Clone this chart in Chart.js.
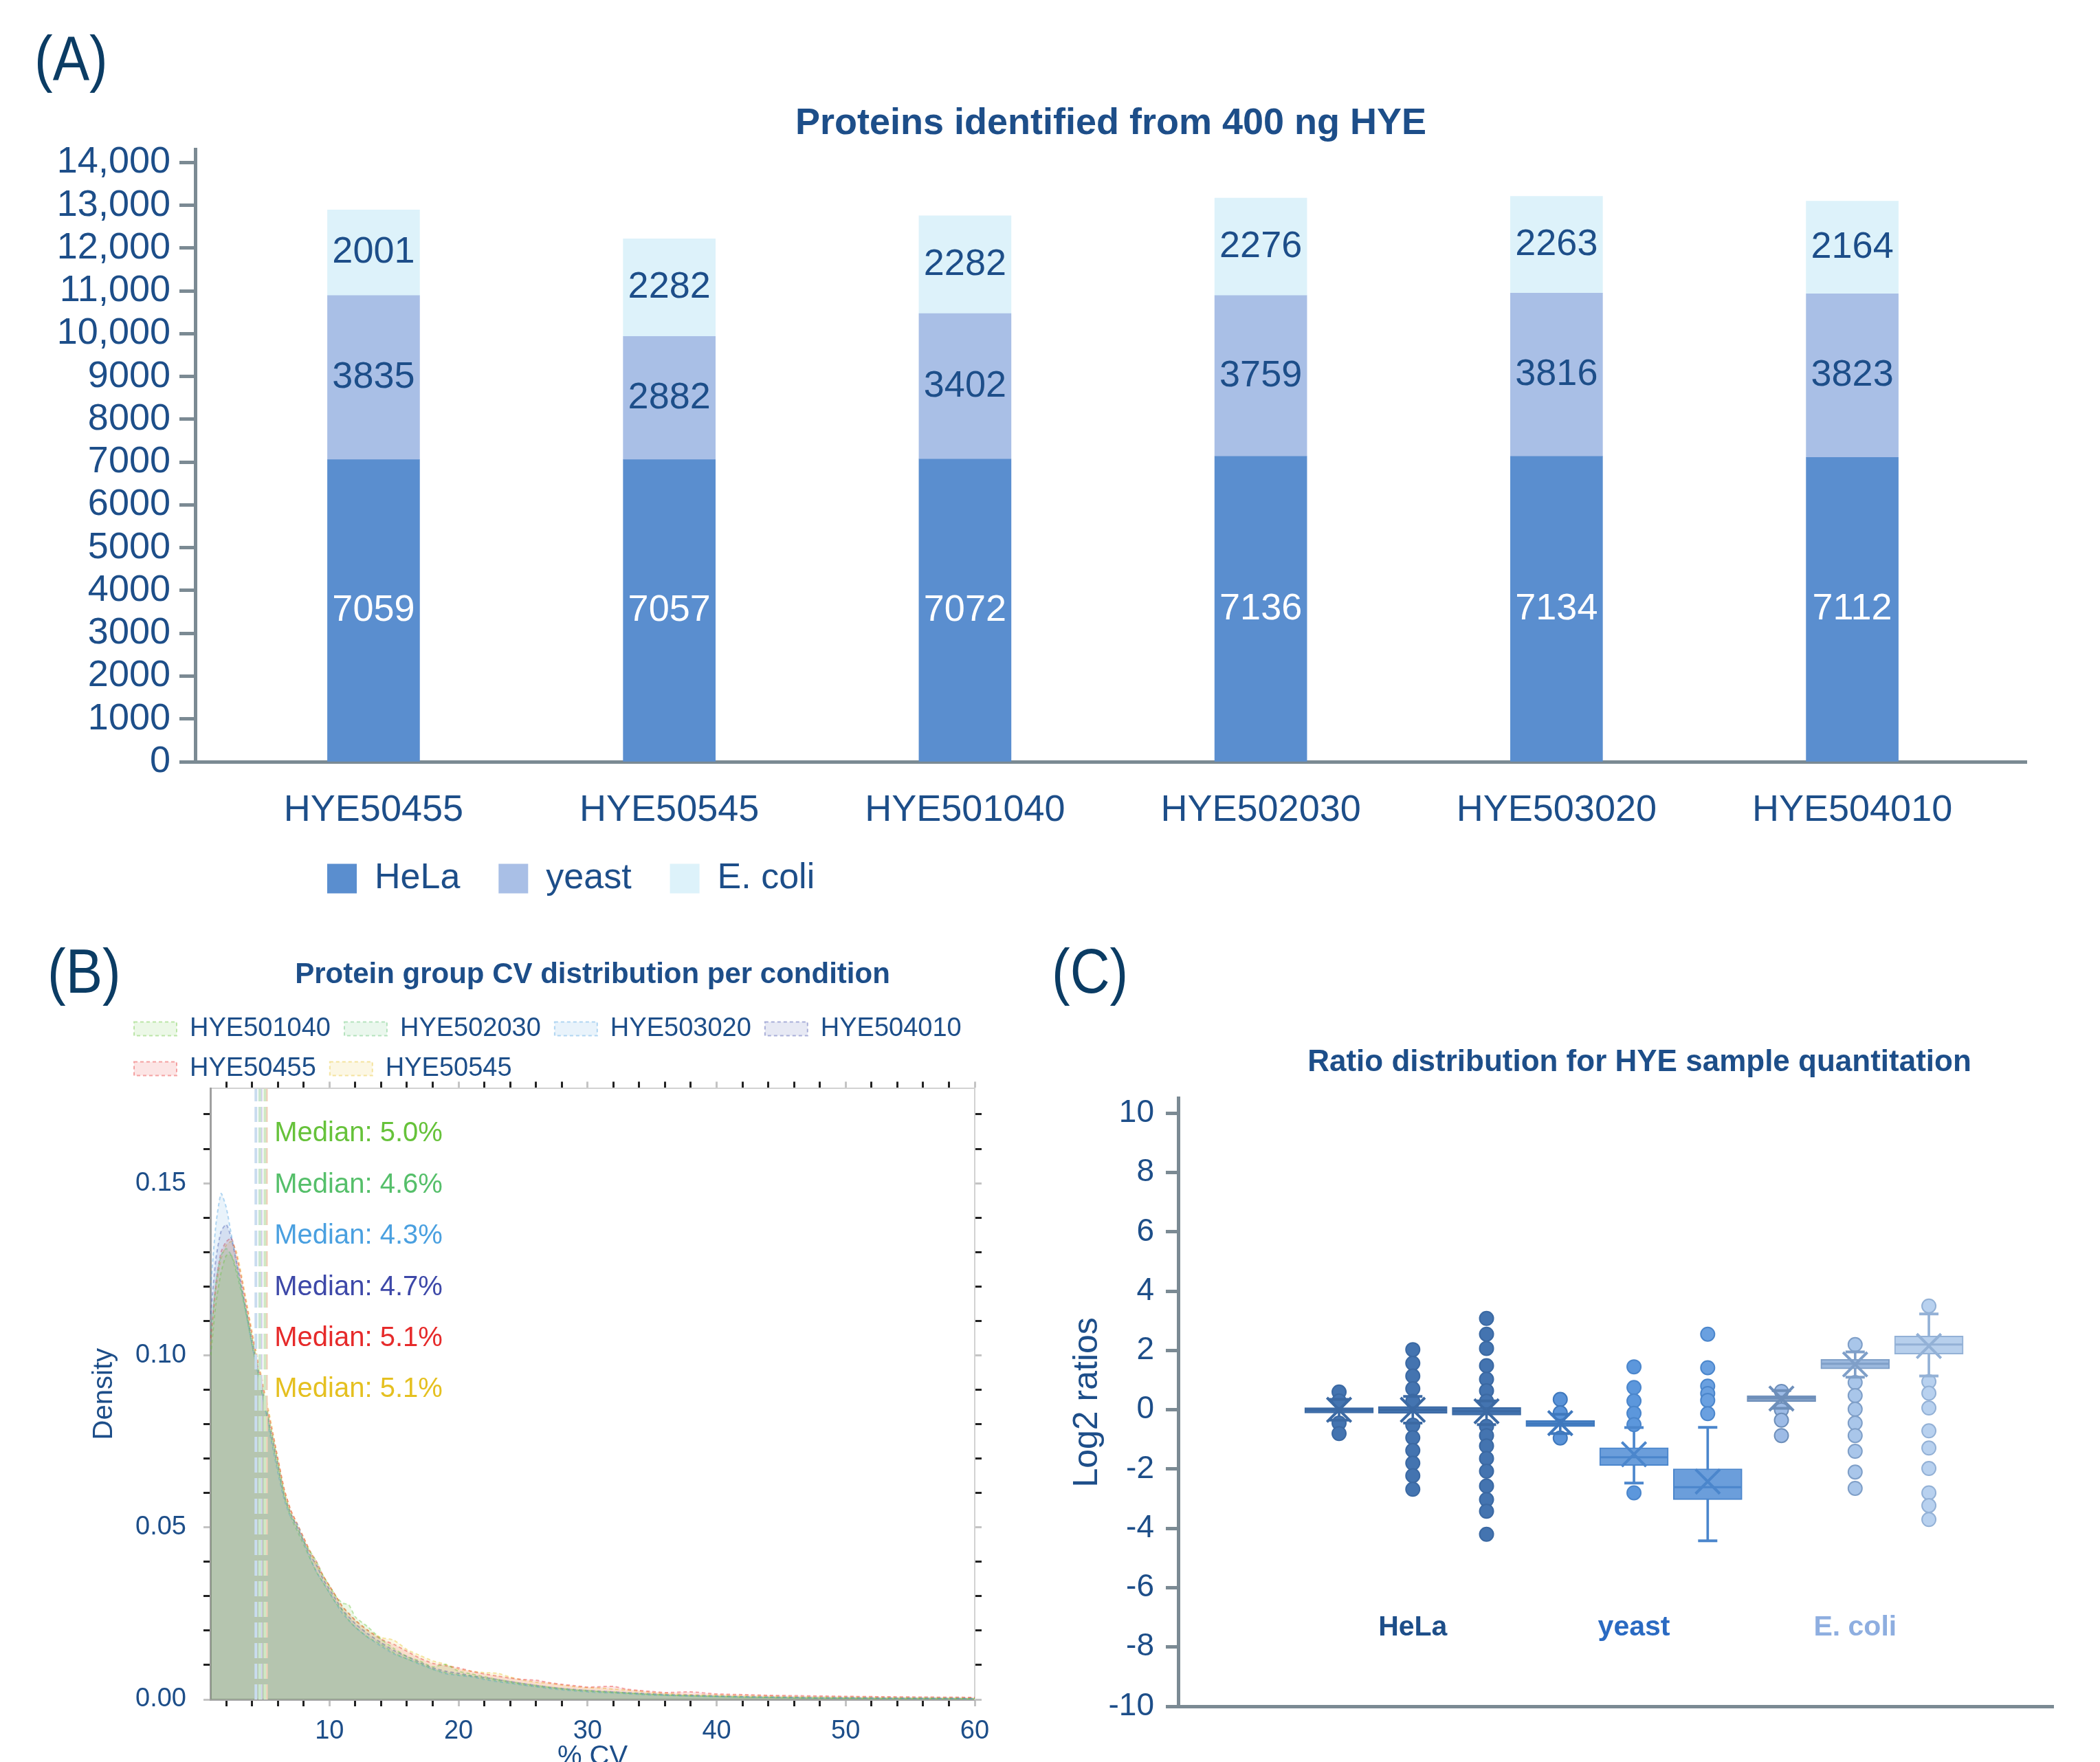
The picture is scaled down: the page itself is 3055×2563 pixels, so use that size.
<!DOCTYPE html>
<html>
<head>
<meta charset="utf-8">
<title>HYE proteome figure</title>
<script src="https://cdn.jsdelivr.net/npm/chart.js@4.4.1/dist/chart.umd.min.js"></script>
<style>
  html, body { margin: 0; padding: 0; background: #fff; overflow: hidden; }
  body { width: 3055px; height: 2563px; position: relative; font-family: "Liberation Sans", Arial, sans-serif; }
  canvas { position: absolute; }
  .tag { position: absolute; font-size: 90px; line-height: 1; color: #0b3c64; transform: scaleX(0.89); transform-origin: left top; }
</style>
</head>
<body>
<div class="tag" style="left:50px; top:40px">(A)</div>
<div class="tag" style="left:69px; top:1368px">(B)</div>
<div class="tag" style="left:1530px; top:1368px">(C)</div>
<canvas id="chartA" width="3055" height="1314" style="left:0; top:0"></canvas>
<canvas id="chartB" width="1460" height="1200" style="left:0; top:1380px"></canvas>
<canvas id="chartC" width="1810" height="1183" style="left:1480px; top:1380px"></canvas>
<script>
// ---- (A) proteins identified per sample ----
const sampleNames = ["HYE50455", "HYE50545", "HYE501040", "HYE502030", "HYE503020", "HYE504010"];
const helaCounts = [7059, 7057, 7072, 7136, 7134, 7112];
const yeastCounts = [3835, 2882, 3402, 3759, 3816, 3823];
const ecoliCounts = [2001, 2282, 2282, 2276, 2263, 2164];
const countTicks = [0, 1000, 2000, 3000, 4000, 5000, 6000, 7000, 8000, 9000, 10000, 11000, 12000, 13000, 14000];

// ---- (B) CV density per condition ----
const cvSeriesNames = ["HYE501040", "HYE502030", "HYE503020", "HYE504010", "HYE50455", "HYE50545"];
const cvGrid = [0.8, 1.2, 1.6, 2.0, 2.4, 2.8, 3.2, 3.6, 4.0, 4.5,
  5.0, 5.5, 6.0, 6.5, 7.0, 7.5, 8.0, 8.5, 9.0, 9.5,
  10, 10.5, 11, 11.5, 12, 13, 14, 15, 16, 17,
  18, 19, 20, 21, 22, 23, 24, 25, 26, 27,
  28, 29, 30, 31, 32, 33, 34, 35, 36, 38,
  40, 42, 44, 46, 48, 50, 53, 56, 60];
const densHYE501040 = [0.100, 0.115, 0.124, 0.129, 0.129, 0.125, 0.119, 0.112, 0.105, 0.096,
  0.087, 0.078, 0.069, 0.060, 0.054, 0.050, 0.046, 0.043, 0.040, 0.036,
  0.033, 0.030, 0.028, 0.0275, 0.024, 0.021, 0.0175, 0.0148, 0.0125, 0.0112,
  0.0095, 0.0102, 0.0082, 0.0074, 0.0066, 0.0058, 0.0052, 0.0046, 0.0041, 0.0036,
  0.0032, 0.0028, 0.0026, 0.0023, 0.0022, 0.0019, 0.0017, 0.0015, 0.0013, 0.0011,
  0.0009, 0.0007, 0.0006, 0.0005, 0.0005, 0.0004, 0.0003, 0.0003, 0.0002];
const densHYE502030 = [0.106, 0.121, 0.129, 0.131, 0.129, 0.124, 0.118, 0.111, 0.103, 0.094,
  0.085, 0.076, 0.067, 0.059, 0.053, 0.049, 0.045, 0.041, 0.037, 0.034,
  0.031, 0.028, 0.026, 0.023, 0.021, 0.018, 0.016, 0.0135, 0.0118, 0.0105,
  0.0088, 0.0078, 0.0072, 0.0068, 0.0061, 0.0055, 0.0049, 0.0043, 0.0038, 0.0034,
  0.0030, 0.0027, 0.0024, 0.0022, 0.0020, 0.0018, 0.0016, 0.0014, 0.0013, 0.0010,
  0.0009, 0.0007, 0.0006, 0.0005, 0.0004, 0.0004, 0.0003, 0.0003, 0.0002];
const densHYE503020 = [0.120, 0.138, 0.147, 0.143, 0.135, 0.127, 0.119, 0.111, 0.103, 0.094,
  0.085, 0.075, 0.066, 0.058, 0.053, 0.051, 0.046, 0.041, 0.037, 0.034,
  0.031, 0.028, 0.025, 0.023, 0.021, 0.018, 0.0155, 0.0132, 0.0118, 0.0102,
  0.0088, 0.0075, 0.0070, 0.0066, 0.0058, 0.0052, 0.0047, 0.0042, 0.0037, 0.0032,
  0.0028, 0.0025, 0.0022, 0.0020, 0.0019, 0.0017, 0.0015, 0.0013, 0.0012, 0.0010,
  0.0008, 0.0007, 0.0006, 0.0005, 0.0004, 0.0004, 0.0003, 0.0003, 0.0002];
const densHYE504010 = [0.112, 0.128, 0.136, 0.138, 0.134, 0.127, 0.120, 0.112, 0.104, 0.095,
  0.086, 0.077, 0.068, 0.059, 0.054, 0.050, 0.046, 0.042, 0.039, 0.035,
  0.032, 0.029, 0.026, 0.024, 0.022, 0.019, 0.0165, 0.0142, 0.0125, 0.0108,
  0.0092, 0.0082, 0.0076, 0.0069, 0.0064, 0.0058, 0.0052, 0.0046, 0.0041, 0.0036,
  0.0032, 0.0029, 0.0026, 0.0024, 0.0022, 0.0020, 0.0018, 0.0016, 0.0014, 0.0012,
  0.0010, 0.0008, 0.0007, 0.0006, 0.0005, 0.0005, 0.0004, 0.0003, 0.0003];
const densHYE50455 = [0.105, 0.121, 0.130, 0.133, 0.134, 0.129, 0.122, 0.114, 0.106, 0.097,
  0.088, 0.079, 0.070, 0.061, 0.055, 0.051, 0.047, 0.043, 0.040, 0.036,
  0.033, 0.030, 0.027, 0.025, 0.023, 0.020, 0.0175, 0.0160, 0.0140, 0.0120,
  0.0105, 0.0098, 0.0092, 0.0082, 0.0074, 0.0068, 0.0062, 0.0058, 0.0056, 0.0049,
  0.0044, 0.0040, 0.0036, 0.0037, 0.0038, 0.0030, 0.0026, 0.0023, 0.0020, 0.0022,
  0.0016, 0.0014, 0.0012, 0.0011, 0.0010, 0.0009, 0.0008, 0.0007, 0.0006];
const densHYE50545 = [0.103, 0.119, 0.128, 0.132, 0.133, 0.130, 0.123, 0.115, 0.107, 0.098,
  0.089, 0.080, 0.070, 0.061, 0.055, 0.051, 0.047, 0.043, 0.039, 0.036,
  0.033, 0.030, 0.027, 0.025, 0.023, 0.020, 0.018, 0.0172, 0.0145, 0.0128,
  0.0112, 0.0102, 0.0088, 0.0082, 0.0078, 0.0076, 0.0065, 0.0056, 0.0050, 0.0047,
  0.0042, 0.0037, 0.0034, 0.0033, 0.0030, 0.0027, 0.0024, 0.0020, 0.0018, 0.0014,
  0.0013, 0.0011, 0.0010, 0.0008, 0.0007, 0.0007, 0.0006, 0.0005, 0.0005];
const cvMedians = [5.0, 4.6, 4.3, 4.7, 5.1, 5.1];
const cvTicksX = [2, 4, 6, 8, 10, 12, 14, 16, 18, 20, 22, 24, 26, 28, 30, 32, 34, 36, 38, 40, 42, 44, 46, 48, 50, 52, 54, 56, 58, 60];
const cvTicksY = [0, 0.01, 0.02, 0.03, 0.04, 0.05, 0.06, 0.07, 0.08, 0.09, 0.10, 0.11, 0.12, 0.13, 0.14, 0.15, 0.16, 0.17];

// ---- (C) log2 ratio box plots ----
const ratioGroups = ["HeLa", "yeast", "E. coli"];
const boxPos = [1, 2, 3, 4, 5, 6, 7, 8, 9];
const boxQ1 = [-0.11, -0.12, -0.18, -0.57, -1.88, -3.03, 0.27, 1.38, 1.88];
const boxQ3 = [0.07, 0.11, 0.08, -0.36, -1.28, -1.99, 0.48, 1.70, 2.49];
const boxMedian = [0, 0, -0.05, -0.47, -1.6, -2.61, 0.4, 1.55, 2.2];
const boxMean = [0, 0, -0.05, -0.45, -1.5, -2.42, 0.38, 1.53, 2.15];
const whiskerLow = [-0.35, -0.45, -0.5, -0.8, -2.47, -4.42, 0.05, 1.1, 1.14];
const whiskerHigh = [0.35, 0.45, 0.3, -0.15, -0.6, -0.59, 0.65, 1.95, 3.23];
const boxOutliers = [
  [0.6, 0.3, -0.45, -0.8],
  [2.03, 1.57, 1.14, 0.71, 0.29, -0.52, -0.94, -1.37, -1.8, -2.22, -2.68],
  [3.08, 2.55, 2.07, 1.49, 1.03, 0.64, 0.29, -0.56, -0.87, -1.22, -1.64, -2.07, -2.57, -3.03, -3.42, -4.2],
  [0.35, -0.1, -0.95],
  [1.45, 0.75, 0.3, -0.12, -0.5, -2.8],
  [2.55, 1.42, 0.8, 0.55, 0.32, -0.13],
  [0.62, 0.0, -0.35, -0.87],
  [2.2, 0.92, 0.48, 0.02, -0.45, -0.87, -1.4, -2.1, -2.65],
  [3.5, 0.95, 0.56, 0.06, -0.71, -1.29, -1.98, -2.8, -3.23, -3.7]
];
const ratioTicks = [-10, -8, -6, -4, -2, 0, 2, 4, 6, 8, 10];

// ---- styles ----
const ink = "#1d4e89";
const axisGray = "#7b8a93";
const fam = '"Liberation Sans", Arial, sans-serif';
const cvColors = ["#66c23a", "#55bf6a", "#4aa0e0", "#3d48a8", "#e62a2a", "#e5c020"];
const medianLineColors = ["#cfe8c4", "#c9e6cf", "#c9dcef", "#d3d0ea", "#f2cbb9", "#f1dfb0"];
const boxFill = ["#4373af", "#4373af", "#4373af", "#4a84c7", "#6b9edb", "#6b9edb", "#819fc6", "#9bb8dd", "#b7cfec"];
const boxEdge = ["#3b69a3", "#3b69a3", "#3b69a3", "#3f78bd", "#4b86cc", "#4b86cc", "#6e8fba", "#7f9fc8", "#93b1d6"];
const dotFill = ["#4474b0", "#4474b0", "#4474b0", "#5a93d8", "#5c97dc", "#6aa0e0", "#9dbbe6", "#a9c6ea", "#b8d1ef"];
const groupColors = ["#1d4e89", "#2a6ac2", "#8eaee0"];

Chart.defaults.font.family = fam;
Chart.defaults.color = ink;
Chart.defaults.animation = false;

function rgba(hex, a) {
  const n = parseInt(hex.slice(1), 16);
  return `rgba(${n >> 16}, ${(n >> 8) & 255}, ${n & 255}, ${a})`;
}

// moves a start-aligned legend sideways
function legendShift(dx) {
  return {
    id: "legendShift",
    afterLayout(chart) {
      chart.legend.left += dx;
      chart.legend.right += dx;
    }
  };
}

const barValueLabels = {
  id: "barValueLabels",
  afterDatasetsDraw(chart) {
    const ctx = chart.ctx;
    ctx.save();
    ctx.font = `54px ${fam}`;
    ctx.textAlign = "center";
    ctx.textBaseline = "middle";
    chart.data.datasets.forEach((ds, di) => {
      ctx.fillStyle = ds.labelColor;
      chart.getDatasetMeta(di).data.forEach((bar, i) => {
        ctx.fillText(String(ds.data[i].y), bar.x, (bar.y + bar.base) / 2);
      });
    });
    ctx.restore();
  }
};

const medianLabels = {
  id: "medianLabels",
  afterDatasetsDraw(chart) {
    const { ctx, chartArea, scales } = chart;
    const x0 = scales.x.getPixelForValue(Math.max(...cvMedians)) + 12;
    ctx.save();
    ctx.font = `40px ${fam}`;
    ctx.textAlign = "left";
    ctx.textBaseline = "middle";
    cvMedians.forEach((m, k) => {
      ctx.fillStyle = cvColors[k];
      ctx.fillText("Median: " + m.toFixed(1) + "%", x0, chartArea.top + 66 + k * 74.4);
    });
    ctx.restore();
  }
};

// ---------- chart A ----------
const toPoints = vals => vals.map((v, i) => ({ x: i, y: v }));

new Chart(document.getElementById("chartA"), {
  type: "bar",
  data: {
    datasets: [
      { label: "HeLa", data: toPoints(helaCounts), backgroundColor: "#5a8ecf", labelColor: "#ffffff" },
      { label: "yeast", data: toPoints(yeastCounts), backgroundColor: "#a9bfe6", labelColor: ink },
      { label: "E. coli", data: toPoints(ecoliCounts), backgroundColor: "#ddf2fa", labelColor: ink }
    ]
  },
  options: {
    responsive: false,
    devicePixelRatio: 1,
    events: [],
    datasets: { bar: { barThickness: 134 } },
    layout: { padding: { left: 0, right: 107, top: 0, bottom: 0 } },
    scales: {
      x: {
        type: "linear", stacked: true, offset: false, min: -0.603, max: 5.589,
        afterBuildTicks: s => { s.ticks = sampleNames.map((_, i) => ({ value: i })); },
        afterFit: s => { s.height = 88; },
        ticks: { callback: v => sampleNames[v], font: { size: 54 }, color: ink, padding: 31, maxRotation: 0 },
        grid: { display: false },
        border: { color: axisGray, width: 5 }
      },
      y: {
        stacked: true, min: 0, max: 14300,
        afterBuildTicks: s => { s.ticks = countTicks.map(v => ({ value: v })); },
        afterFit: s => { s.width = 284; },
        ticks: { callback: v => v >= 10000 ? v.toLocaleString("en-US") : String(v), font: { size: 54 }, color: ink, padding: 13, autoSkip: false },
        grid: { drawOnChartArea: false, tickLength: 23, tickWidth: 5, tickColor: axisGray },
        border: { color: axisGray, width: 5 }
      }
    },
    plugins: {
      title: {
        display: true, text: "Proteins identified from 400 ng HYE", fullSize: false,
        font: { size: 54, weight: "bold" }, color: ink, padding: { top: 148, bottom: 5 }
      },
      legend: {
        position: "bottom", align: "start",
        labels: { boxWidth: 43, boxHeight: 43, padding: 56, font: { size: 52 }, color: ink }
      },
      tooltip: { enabled: false }
    }
  },
  plugins: [legendShift(420), barValueLabels]
});

// ---------- chart B ----------
const cvSeries = [densHYE501040, densHYE502030, densHYE503020, densHYE504010, densHYE50455, densHYE50545];
const cvTop = 0.1775;
const isMajor = (v, step) => Math.abs(v / step - Math.round(v / step)) < 1e-6;

const densitySets = cvSeries.map((vals, k) => ({
  label: cvSeriesNames[k],
  data: cvGrid.map((x, i) => ({ x, y: vals[i] })),
  borderColor: rgba(cvColors[k], 0.4),
  backgroundColor: rgba(cvColors[k], 0.12),
  borderWidth: 2,
  borderDash: [5, 4],
  fill: "origin",
  pointRadius: 0,
  tension: 0.2
}));
const medianSets = cvMedians.map((m, k) => ({
  label: "median " + cvSeriesNames[k],
  data: [{ x: m, y: 0 }, { x: m, y: cvTop }],
  borderColor: medianLineColors[k],
  borderWidth: 4,
  borderDash: [22, 8],
  fill: false,
  pointRadius: 0,
  order: -1
}));

const frameGrid = {
  drawOnChartArea: false, tickLength: 10, tickWidth: 3,
  tickColor: c => (c.tick && isMajor(c.tick.value, c.scale.axis === "x" ? 10 : 0.05)) ? "#c4c4c4" : "#222"
};

new Chart(document.getElementById("chartB"), {
  type: "line",
  data: { datasets: densitySets.concat(medianSets) },
  options: {
    responsive: false,
    devicePixelRatio: 1,
    events: [],
    layout: { padding: 0 },
    scales: {
      x: {
        type: "linear", min: 0.77, max: 60,
        afterBuildTicks: s => { s.ticks = cvTicksX.map(v => ({ value: v })); },
        afterFit: s => { s.height = 108; },
        ticks: { callback: v => isMajor(v, 10) ? String(v) : "", font: { size: 38 }, color: ink, padding: 14, autoSkip: false, maxRotation: 0 },
        grid: frameGrid,
        border: { color: "#a9a9a9", width: 3 },
        title: { display: true, text: "% CV", font: { size: 40 }, color: ink, padding: { top: 0, bottom: 0 } }
      },
      xTop: {
        type: "linear", position: "top", min: 0.77, max: 60,
        afterBuildTicks: s => { s.ticks = cvTicksX.map(v => ({ value: v })); },
        afterFit: s => { s.height = 0; },
        ticks: { display: false },
        grid: frameGrid,
        border: { color: "#d2d2d2", width: 2 }
      },
      y: {
        type: "linear", min: 0, max: cvTop,
        afterBuildTicks: s => { s.ticks = cvTicksY.map(v => ({ value: v })); },
        afterFit: s => { s.width = 306; },
        ticks: { callback: v => isMajor(v, 0.05) ? v.toFixed(2) : "", font: { size: 38 }, color: ink, padding: 25, autoSkip: false },
        grid: frameGrid,
        border: { color: "#a0a0a0", width: 3 },
        title: { display: true, text: "Density", font: { size: 40 }, color: ink, padding: { top: 128, bottom: 0 } }
      },
      yRight: {
        type: "linear", position: "right", min: 0, max: cvTop,
        afterBuildTicks: s => { s.ticks = cvTicksY.map(v => ({ value: v })); },
        afterFit: s => { s.width = 42; },
        ticks: { display: false },
        grid: frameGrid,
        border: { color: "#d2d2d2", width: 2 }
      }
    },
    plugins: {
      title: {
        display: true, text: "Protein group CV distribution per condition", fullSize: false,
        font: { size: 42, weight: "bold" }, color: ink, padding: { top: 13, bottom: 14 }
      },
      legend: {
        position: "top", align: "start",
        labels: {
          boxWidth: 62, boxHeight: 20, padding: 20, font: { size: 38 }, color: ink,
          filter: item => item.datasetIndex < cvSeries.length
        }
      },
      tooltip: { enabled: false }
    }
  },
  plugins: [legendShift(175), medianLabels]
});

// ---------- chart C ----------
const capPoints = [], capColors = [];
boxPos.forEach((p, i) => {
  capPoints.push({ x: p, y: whiskerLow[i] }, { x: p, y: whiskerHigh[i] });
  capColors.push(boxEdge[i], boxEdge[i]);
});
const outlierPoints = [], outlierFill = [], outlierEdge = [];
boxPos.forEach((p, i) => {
  boxOutliers[i].forEach(v => {
    outlierPoints.push({ x: p, y: v });
    outlierFill.push(dotFill[i]);
    outlierEdge.push(boxEdge[i]);
  });
});

new Chart(document.getElementById("chartC"), {
  type: "bar",
  data: {
    datasets: [
      {
        type: "scatter", label: "mean", order: 0,
        data: boxPos.map((p, i) => ({ x: p, y: boxMean[i] })),
        pointStyle: "crossRot", pointRadius: 25, pointBorderWidth: 4, pointBorderColor: boxEdge
      },
      {
        type: "scatter", label: "median", order: 1,
        data: boxPos.map((p, i) => ({ x: p, y: boxMedian[i] })),
        pointStyle: "line", pointRadius: 49, pointBorderWidth: 3, pointBorderColor: boxEdge
      },
      {
        label: "box", order: 2, grouped: false, barThickness: 100,
        data: boxPos.map((p, i) => ({ x: p, y: [boxQ1[i], boxQ3[i]] })),
        backgroundColor: boxFill, borderColor: boxEdge, borderWidth: 2, borderSkipped: false
      },
      {
        type: "scatter", label: "whisker cap", order: 3,
        data: capPoints,
        pointStyle: "line", pointRadius: 14, pointBorderWidth: 4, pointBorderColor: capColors
      },
      {
        type: "scatter", label: "outlier", order: 4,
        data: outlierPoints,
        pointStyle: "circle", pointRadius: 10, pointBorderWidth: 2,
        pointBackgroundColor: outlierFill, pointBorderColor: outlierEdge
      },
      {
        label: "whisker", order: 5, grouped: false, barThickness: 3,
        data: boxPos.map((p, i) => ({ x: p, y: [whiskerLow[i], whiskerHigh[i]] })),
        backgroundColor: boxEdge
      }
    ]
  },
  options: {
    responsive: false,
    devicePixelRatio: 1,
    events: [],
    layout: { padding: 0 },
    scales: {
      x: {
        type: "linear", offset: false, min: -1.182, max: 10.687,
        afterBuildTicks: s => { s.ticks = ratioGroups.map((_, g) => ({ value: boxPos[g * 3 + 1] })); },
        afterFit: s => { s.height = 81; },
        ticks: {
          callback: (v, i) => ratioGroups[i], color: c => groupColors[c.index],
          font: { size: 41, weight: "bold" }, mirror: true, padding: 90, maxRotation: 0
        },
        grid: { display: false },
        border: { color: axisGray, width: 5 }
      },
      y: {
        type: "linear", min: -10, max: 10.5,
        afterBuildTicks: s => { s.ticks = ratioTicks.map(v => ({ value: v })); },
        afterFit: s => { s.width = 234; },
        ticks: { font: { size: 46 }, color: ink, padding: 17 },
        grid: { drawOnChartArea: false, tickLength: 18, tickWidth: 5, tickColor: axisGray },
        border: { color: axisGray, width: 5 },
        title: { display: true, text: "Log2 ratios", font: { size: 50 }, color: ink, padding: { top: 72, bottom: 0 } }
      },
      // empty spacer on the right so the full-width title centres where the original does
      spacer: {
        type: "linear", position: "right", min: -10, max: 10.5,
        afterFit: s => { s.width = 303; },
        ticks: { display: false },
        grid: { display: false },
        border: { display: false }
      }
    },
    plugins: {
      title: {
        display: true, text: "Ratio distribution for HYE sample quantitation", fullSize: true,
        font: { size: 44, weight: "bold" }, color: ink, padding: { top: 139, bottom: 26 }
      },
      legend: { display: false },
      tooltip: { enabled: false }
    }
  }
});
</script>
</body>
</html>
